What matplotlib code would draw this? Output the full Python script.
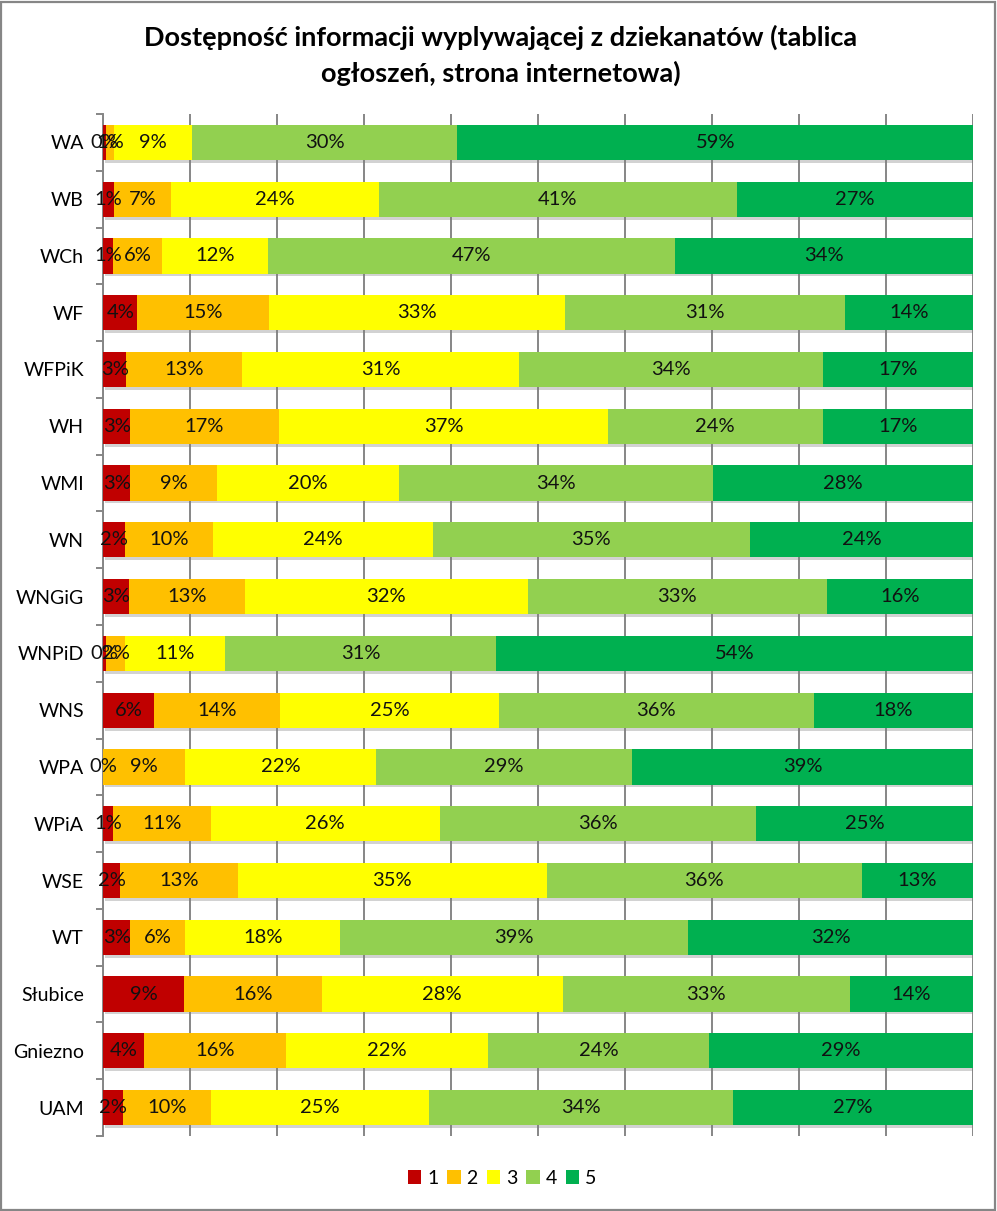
import matplotlib.pyplot as plt
import numpy as np
from matplotlib import patheffects
from matplotlib.patches import Patch, Rectangle

plt.rcParams["font.family"] = ["Lato", "DejaVu Sans"]

categories = ["WA", "WB", "WCh", "WF", "WFPiK", "WH", "WMI", "WN", "WNGiG",
              "WNPiD", "WNS", "WPA", "WPiA", "WSE", "WT", "Słubice", "Gniezno", "UAM"]
# percentages of respondents per answer (1 = worst, 5 = best)
ans_1 = [0.3, 1.2, 1.1, 3.8, 2.6, 3.0, 2.9, 2.4, 2.9, 0.3, 5.8, 0.0, 1.1, 1.9, 3.0, 9.3, 4.4, 2.2]
ans_2 = [0.9, 6.6, 5.7, 14.8, 13.0, 16.8, 9.4, 9.6, 12.9, 2.2, 14.4, 9.3, 11.1, 13.4, 6.2, 15.8, 15.6, 9.9]
ans_3 = [8.9, 23.9, 12.1, 33.3, 31.3, 37.1, 19.6, 24.0, 31.6, 11.2, 24.9, 21.7, 26.1, 35.1, 17.5, 27.7, 22.1, 24.6]
ans_4 = [30.4, 41.1, 46.8, 31.4, 34.2, 24.2, 33.9, 34.6, 33.4, 30.6, 35.9, 29.2, 36.0, 35.8, 39.2, 33.0, 24.2, 34.2]
ans_5 = [59.0, 27.2, 34.3, 14.4, 17.0, 17.0, 28.1, 24.4, 16.4, 53.8, 18.2, 38.8, 24.7, 12.7, 32.1, 14.2, 28.9, 27.1]
series_names = ["1", "2", "3", "4", "5"]
colors = ["#C00000", "#FFC000", "#FFFF00", "#92D050", "#00B050"]

series = [np.array(s, dtype=float) for s in (ans_1, ans_2, ans_3, ans_4, ans_5)]
totals = np.sum(series, axis=0)

fig = plt.figure(figsize=(9.97, 12.11), dpi=100)
fig.patches.append(Rectangle((0.001, 0.001), 0.997, 0.997, transform=fig.transFigure,
                             fill=False, edgecolor="#868686", linewidth=1.6))

ax = fig.add_axes([103.3 / 997, 1 - 1136 / 1211, 870 / 997, 1022 / 1211])
y = np.arange(len(categories))
shadow = [patheffects.SimplePatchShadow(offset=(1.5, -2), shadow_rgbFace="#7f7f7f", alpha=0.35),
          patheffects.Normal()]

left = np.zeros(len(categories))
for values, name, color in zip(series, series_names, colors):
    share = values / totals * 100
    bars = ax.barh(y, share, left=left, height=0.62, color=color, label=name, zorder=3)
    for bar in bars:
        bar.set_path_effects(shadow)
    for yi, l, w, v in zip(y, left, share, values):
        ax.text(l + w / 2, yi, f"{v:.0f}%", ha="center", va="center",
                fontsize=14.5, color="#111111", zorder=5)
    left = left + share

ax.set_xlim(0, 100)
ax.set_ylim(len(categories) - 0.5, -0.5)
ax.set_xticks(np.arange(0, 101, 10))
ax.tick_params(axis="x", length=0, labelbottom=False)
ax.grid(axis="x", color="#868686", linewidth=1.4, zorder=0)
ax.set_axisbelow(True)

ax.set_yticks(y)
ax.set_yticklabels(categories, fontsize=14)
ax.tick_params(axis="y", length=0, pad=14)
ax.set_yticks(np.arange(-0.5, len(categories), 1), minor=True)
ax.tick_params(axis="y", which="minor", length=5, width=1.4, color="#868686", direction="out")

for s in ("top", "right", "bottom"):
    ax.spines[s].set_visible(False)
ax.spines["left"].set_color("#868686")
ax.spines["left"].set_linewidth(1.4)

fig.text(0.502, 1 - 37 / 1211, "Dostępność informacji wyplywającej z dziekanatów (tablica",
         ha="center", va="center", fontsize=19.5, fontweight="bold")
fig.text(0.502, 1 - 73 / 1211, "ogłoszeń, strona internetowa)",
         ha="center", va="center", fontsize=19.5, fontweight="bold")

handles = [Patch(facecolor=c, label=n) for n, c in zip(series_names, colors)]
fig.legend(handles=handles, loc="center", bbox_to_anchor=(502 / 997, 1 - 1178 / 1211),
           ncol=5, frameon=False, fontsize=14, handlelength=0.7, handleheight=0.7,
           handletextpad=0.3, columnspacing=0.45)

fig.savefig("out.png", dpi=100)
